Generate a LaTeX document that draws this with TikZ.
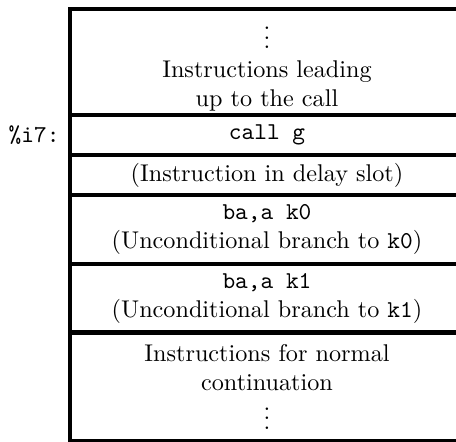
\documentclass[tikz,border=0pt]{standalone}
\usepackage{tikz}
\usetikzlibrary{positioning}
\tikzset{
  cell/.style={draw,line width=1.65pt,minimum width=394*0.4132pt,
    minimum height=#1*0.4132pt,inner sep=0pt,align=center,font=\normalsize},
  cell/.default=40,
  tag/.style={font=\ttfamily,inner sep=0pt},
}

\begin{document}
\begin{tikzpicture}[x=0.4132pt,y=-0.4132pt]
  \clip (0,0) rectangle (456,441);
  \node[cell=106] (pre) at (267,62) {$\vdots$\\Instructions leading\\up to the call};
  \node[cell=40] (call) at (267,135) {\texttt{call g}};
  \node[cell=40.3] (delay) at (267,175.2) {(Instruction in delay slot)};
  \node[cell=68.7] (bk0) at (267,229.6) {\texttt{ba,a k0}\\(Unconditional branch to \texttt{k0})};
  \node[cell=68.5] (bk1) at (267,298.2) {\texttt{ba,a k1}\\(Unconditional branch to \texttt{k1})};
  \node[cell=108.8] (cont) at (267,386.9) {Instructions for normal\\continuation\\$\vdots$};
  \node[tag,left=8*0.4132pt of call.west] (ret) {\%i7:};
\end{tikzpicture}
\end{document}
